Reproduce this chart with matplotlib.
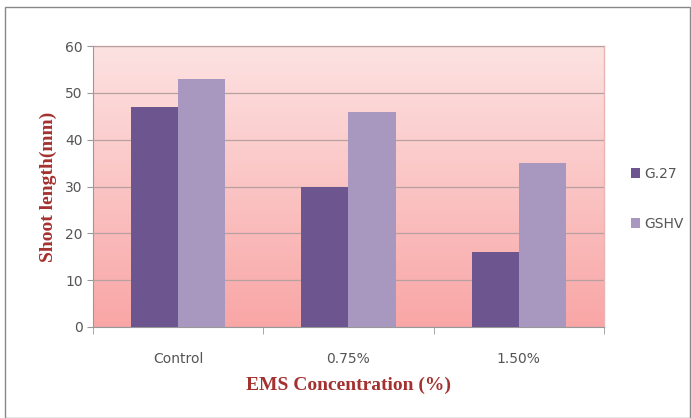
import numpy as np
import matplotlib
matplotlib.use("Agg")
import matplotlib.pyplot as plt
from matplotlib.patches import Rectangle
from matplotlib.colors import LinearSegmentedColormap

categories = ["Control", "0.75%", "1.50%"]
g27 = [47, 30, 16]
gshv = [53, 46, 35]
series_names = ["G.27", "GSHV"]
yticks = [0, 10, 20, 30, 40, 50, 60]

c_g27 = "#6d5590"
c_gshv = "#a898bf"
label_red = "#a3312f"
tick_gray = "#555555"

fig = plt.figure(figsize=(6.91, 4.18), dpi=100)
fig.patch.set_facecolor("white")
fig.add_artist(Rectangle((5 / 691, 0.0), 685 / 691, 1 - 7 / 418, transform=fig.transFigure,
                         fill=False, edgecolor="#888888", linewidth=1.0))

ax = fig.add_axes([93 / 691, 1 - 327 / 418, 511 / 691, 281 / 418])

# pink vertical gradient behind the plot area
cmap = LinearSegmentedColormap.from_list("pinkfade", ["#f9a6a6", "#fde2e2"])
grad = np.linspace(0, 1, 256).reshape(-1, 1)
ax.imshow(grad, cmap=cmap, aspect="auto", extent=[0, 1, 0, 1], origin="lower",
          transform=ax.transAxes, zorder=0)

x = np.arange(len(categories))
w = 0.277
ax.bar(x - w / 2, g27, w, color=c_g27, label=series_names[0], zorder=3)
ax.bar(x + w / 2, gshv, w, color=c_gshv, label=series_names[1], zorder=3)

ax.set_xlim(-0.5, 2.5)
ax.set_ylim(0, 60)
ax.set_yticks(yticks)
ax.yaxis.grid(True, color="#b8a0a0", linewidth=0.9, zorder=1)
ax.set_axisbelow(False)

ax.set_xticks(x)
ax.set_xticklabels(categories)
ax.set_xticks([-0.5, 0.5, 1.5, 2.5], minor=True)
ax.tick_params(axis="x", which="major", length=0, pad=18, labelsize=10, labelcolor=tick_gray)
ax.tick_params(axis="x", which="minor", length=5, color="#999999")
ax.tick_params(axis="y", length=4, color="#999999", labelsize=10, labelcolor=tick_gray)

for side in ["top", "right"]:
    ax.spines[side].set_color("#e8b4b4")
    ax.spines[side].set_linewidth(1.0)
ax.spines["left"].set_color("#999999")
ax.spines["bottom"].set_color("#999999")

ax.set_ylabel("Shoot length(mm)", family="Liberation Serif", fontweight="bold",
              fontsize=14, color=label_red, labelpad=6)
ax.set_xlabel("EMS Concentration (%)", family="Liberation Serif", fontweight="bold",
              fontsize=14, color=label_red, labelpad=8)

leg = fig.legend(loc="upper left", bbox_to_anchor=(618 / 691, 1 - 154 / 418),
                 frameon=False, fontsize=10, handlelength=0.7, handleheight=0.7,
                 handletextpad=0.3, labelspacing=2.6)
for t in leg.get_texts():
    t.set_color(tick_gray)

fig.savefig("out.png", dpi=100)
